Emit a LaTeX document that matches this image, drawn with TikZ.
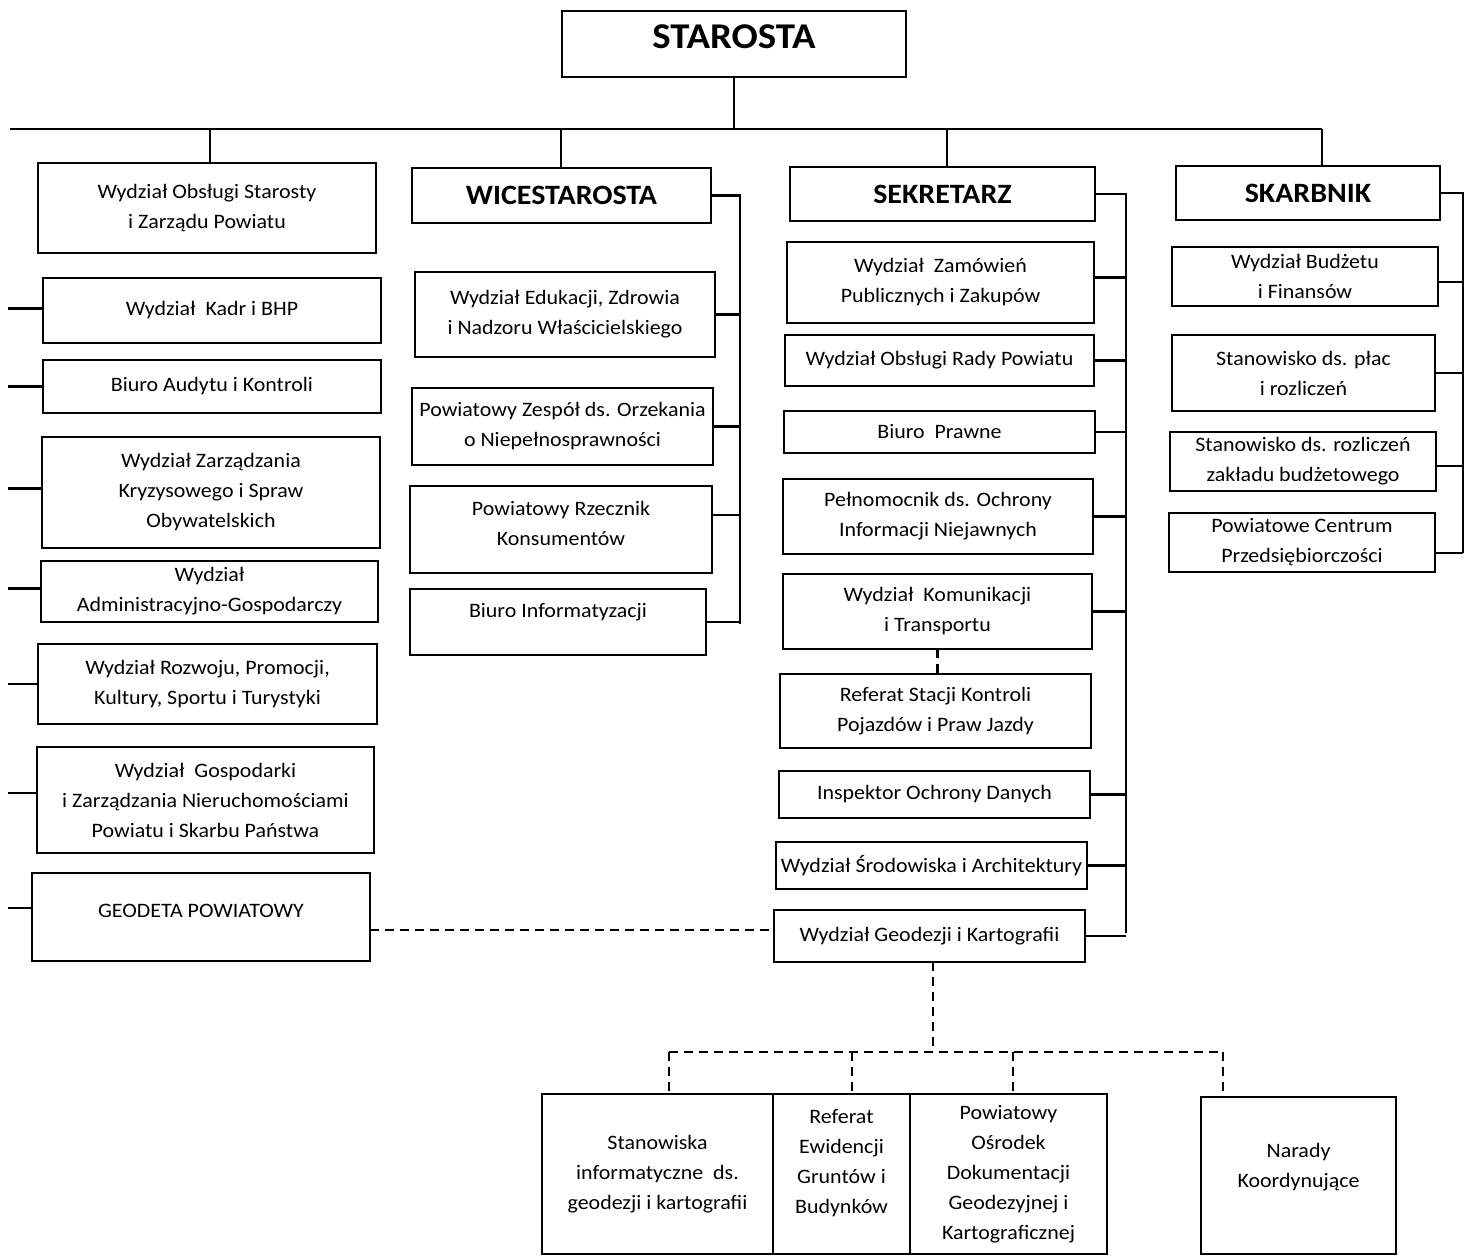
\documentclass[tikz,border=0pt]{standalone}
\usepackage{fontspec}
\setmainfont{Carlito}[FakeStretch=1.07]
\begin{document}
\begin{tikzpicture}[x=1pt,y=-1pt,
  every node/.style={font=\fontsize{20.5}{30}\selectfont, text=black},
  box/.style={draw, line width=2.2pt, inner sep=0pt, outer sep=0pt, align=center},
  head/.style={font=\fontsize{28}{32}\selectfont\bfseries},
  txt/.style={align=center, inner sep=0pt, outer sep=0pt},
  ln/.style={line width=2.2pt},
  dsh/.style={line width=2.2pt, dash pattern=on 9pt off 6pt}]
\useasboundingbox (0,0) rectangle (1467,1257);

% ---- top
\node[box, minimum width=344pt, minimum height=66pt,
  label={[name=starostaT, txt, yshift=7pt, font=\fontsize{36.3}{40}\selectfont\bfseries]center:STAROSTA}] (starosta) at (734,44) {};

% ---- left column
\node[box, minimum width=338pt, minimum height=90pt] (obslugi) at (207,208) {Wydział Obsługi Starosty\\i Zarządu Powiatu};
\node[box, minimum width=338pt, minimum height=65pt] (kadr) at (212,310.5) {Wydział\ \ Kadr i BHP};
\node[box, minimum width=338pt, minimum height=53pt] (audyt) at (212,386.5) {Biuro Audytu i Kontroli};
\node[box, minimum width=338pt, minimum height=111pt] (kryzys) at (211,492.5) {Wydział Zarządzania\\Kryzysowego i Spraw\\Obywatelskich};
\node[box, minimum width=337pt, minimum height=61pt] (admin) at (209.5,591.5) {Wydział\\Administracyjno-Gospodarczy};
\node[box, minimum width=339pt, minimum height=80pt] (rozwoj) at (207.5,684) {Wydział Rozwoju, Promocji,\\Kultury, Sportu i Turystyki};
\node[box, minimum width=337pt, minimum height=106pt] (gosp) at (205.5,800) {Wydział\ \ Gospodarki\\i Zarządzania Nieruchomościami\\Powiatu i Skarbu Państwa};
\node[box, minimum width=338pt, minimum height=88pt,
  label={[name=geodetaT, txt, yshift=6pt]center:GEODETA POWIATOWY}] (geodeta) at (201,917) {};

% ---- wicestarosta column
\node[box, head, minimum width=299pt, minimum height=55pt] (wice) at (561.5,195.5) {WICESTAROSTA};
\node[box, minimum width=300pt, minimum height=85pt] (eduk) at (565,314.5) {Wydział Edukacji, Zdrowia\\i Nadzoru Właścicielskiego};
\node[box, minimum width=301pt, minimum height=77pt] (orzek) at (562.5,426.5) {Powiatowy Zespół ds. Orzekania\\o Niepełnosprawności};
\node[box, minimum width=302pt, minimum height=87pt,
  label={[name=rzeczT, txt, yshift=6pt]center:Powiatowy Rzecznik\\Konsumentów}] (rzecz) at (561,529.5) {};
\node[box, minimum width=296pt, minimum height=66pt,
  label={[name=informT, txt, yshift=10pt]center:Biuro Informatyzacji}] (inform) at (558,622) {};

% ---- sekretarz column
\node[box, head, minimum width=305pt, minimum height=54pt] (sekr) at (942.5,194) {SEKRETARZ};
\node[box, minimum width=307pt, minimum height=81pt] (zamow) at (940.5,282.5) {Wydział\ \ Zamówień\\Publicznych i Zakupów};
\node[box, minimum width=309pt, minimum height=51pt] (rada) at (939.5,360.5) {Wydział Obsługi Rady Powiatu};
\node[box, minimum width=311pt, minimum height=42pt] (prawne) at (939.5,432) {Biuro\ \ Prawne};
\node[box, minimum width=310pt, minimum height=75pt] (pelnom) at (938,516.5) {Pełnomocnik ds. Ochrony\\Informacji Niejawnych};
\node[box, minimum width=309pt, minimum height=75pt] (komun) at (937.5,611.5) {Wydział\ \ Komunikacji\\i Transportu};
\node[box, minimum width=311pt, minimum height=74pt] (referat) at (935.5,711) {Referat Stacji Kontroli\\Pojazdów i Praw Jazdy};
\node[box, minimum width=311pt, minimum height=47pt] (inspektor) at (934.5,794.5) {Inspektor Ochrony Danych};
\node[box, minimum width=311pt, minimum height=47pt] (srodow) at (931.5,865.5) {Wydział Środowiska i Architektury};
\node[box, minimum width=311pt, minimum height=52pt] (geodezji) at (929.5,936) {Wydział Geodezji i Kartografii};

% ---- skarbnik column
\node[box, head, minimum width=264pt, minimum height=54pt] (skarb) at (1308,193) {SKARBNIK};
\node[box, minimum width=266pt, minimum height=59pt] (budzet) at (1305,276.5) {Wydział Budżetu\\i Finansów};
\node[box, minimum width=263pt, minimum height=76pt] (placa) at (1303.5,373) {Stanowisko ds. płac\\i rozliczeń};
\node[box, minimum width=266pt, minimum height=59pt] (zaklad) at (1303,461.5) {Stanowisko ds. rozliczeń\\zakładu budżetowego};
\node[box, minimum width=266pt, minimum height=59pt] (centrum) at (1302,542.5) {Powiatowe Centrum\\Przedsiębiorczości};

% ---- bottom boxes
\node[box, minimum width=231pt, minimum height=160pt] (stan) at (657.5,1174) {Stanowiska\\informatyczne\ \ ds.\\geodezji i kartografii};
\node[box, minimum width=137pt, minimum height=160pt,
  label={[name=ewidT, txt, yshift=11pt]center:Referat\\Ewidencji\\Gruntów i\\Budynków}] (ewid) at (841.5,1174) {};
\node[box, minimum width=197pt, minimum height=160pt] (osrod) at (1008.5,1174) {Powiatowy\\Ośrodek\\Dokumentacji\\Geodezyjnej i\\Kartograficznej};
\node[box, minimum width=195pt, minimum height=157pt,
  label={[name=naradyT, txt, yshift=8pt]center:Narady\\Koordynujące}] (narady) at (1298.5,1175.5) {};

% ---- main bus
\coordinate (busL) at (10,129);
\coordinate (busR) at (1322,129);
\coordinate (d1) at (210,129);
\coordinate (d2) at (561,129);
\coordinate (d3) at (947,129);
\draw[ln] (starosta.south) -- (starosta.south |- busL);
\draw[ln] (busL) -- (busR);
\draw[ln] (d1) -- (d1 |- obslugi.north);
\draw[ln] (d2) -- (d2 |- wice.north);
\draw[ln] (d3) -- (d3 |- sekr.north);
\draw[ln] (busR) -- (busR |- skarb.north);

% ---- left stubs
\coordinate (lx) at (8,0);
\coordinate (kadrS) at ([yshift=2pt]kadr.west);
\coordinate (kryzysS) at ([yshift=4pt]kryzys.west);
\coordinate (adminS) at ([yshift=3pt]admin.west);
\coordinate (gospS) at ([yshift=7pt]gosp.west);
\coordinate (geodetaS) at ([yshift=9pt]geodeta.west);
\draw[ln] (kadrS) -- (kadrS -| lx);
\draw[ln] (audyt.west) -- (audyt.west -| lx);
\draw[ln] (kryzysS) -- (kryzysS -| lx);
\draw[ln] (adminS) -- (adminS -| lx);
\draw[ln] (rozwoj.west) -- (rozwoj.west -| lx);
\draw[ln] (gospS) -- (gospS -| lx);
\draw[ln] (geodetaS) -- (geodetaS -| lx);

% ---- wicestarosta bus
\coordinate (wb) at (740,624);
\coordinate (rzeczS) at ([yshift=14.5pt]rzecz.east);
\draw[ln] (wice.east) -| (wb);
\draw[ln] (eduk.east) -- (eduk.east -| wb);
\draw[ln] (orzek.east) -- (orzek.east -| wb);
\draw[ln] (rzeczS) -- (rzeczS -| wb);
\draw[ln] (inform.east) -- (inform.east -| wb);

% ---- sekretarz bus
\coordinate (sb) at (1126,933);
\coordinate (zamowS) at ([yshift=5pt]zamow.east);
\draw[ln] (sekr.east) -| (sb);
\draw[ln] (zamowS) -- (zamowS -| sb);
\foreach \n in {rada,prawne,pelnom,komun,inspektor,srodow,geodezji}
  \draw[ln] (\n.east) -- (\n.east -| sb);

% ---- skarbnik bus
\coordinate (kb) at (1463,553);
\coordinate (budzetS) at ([yshift=-5.5pt]budzet.east);
\coordinate (zakladS) at ([yshift=-4.5pt]zaklad.east);
\coordinate (centrumS) at ([yshift=-10.5pt]centrum.east);
\draw[ln] (skarb.east) -| (kb);
\draw[ln] (budzetS) -- (budzetS -| kb);
\draw[ln] (placa.east) -- (placa.east -| kb);
\draw[ln] (zakladS) -- (zakladS -| kb);
\draw[ln] (centrumS) -- (centrumS -| kb);

% ---- dashed links
\draw[dsh] (komun.south) -- (komun.south |- referat.north);
\coordinate (gd) at ([yshift=-13pt]geodeta.east);
\draw[dsh] (gd) -- (gd -| geodezji.west);
\coordinate (gj) at (933,1052);
\coordinate (b1) at (669,1052);
\coordinate (b2) at (852,1052);
\coordinate (b3) at (1013,1052);
\coordinate (b4) at (1223,1052);
\draw[dsh] (gj |- geodezji.south) -- (gj);
\draw[dsh] (b1) -- (b4);
\draw[dsh] (b1) -- (b1 |- stan.north);
\draw[dsh] (b2) -- (b2 |- ewid.north);
\draw[dsh] (b3) -- (b3 |- osrod.north);
\draw[dsh] (b4) -- (b4 |- narady.north);
\end{tikzpicture}
\end{document}
